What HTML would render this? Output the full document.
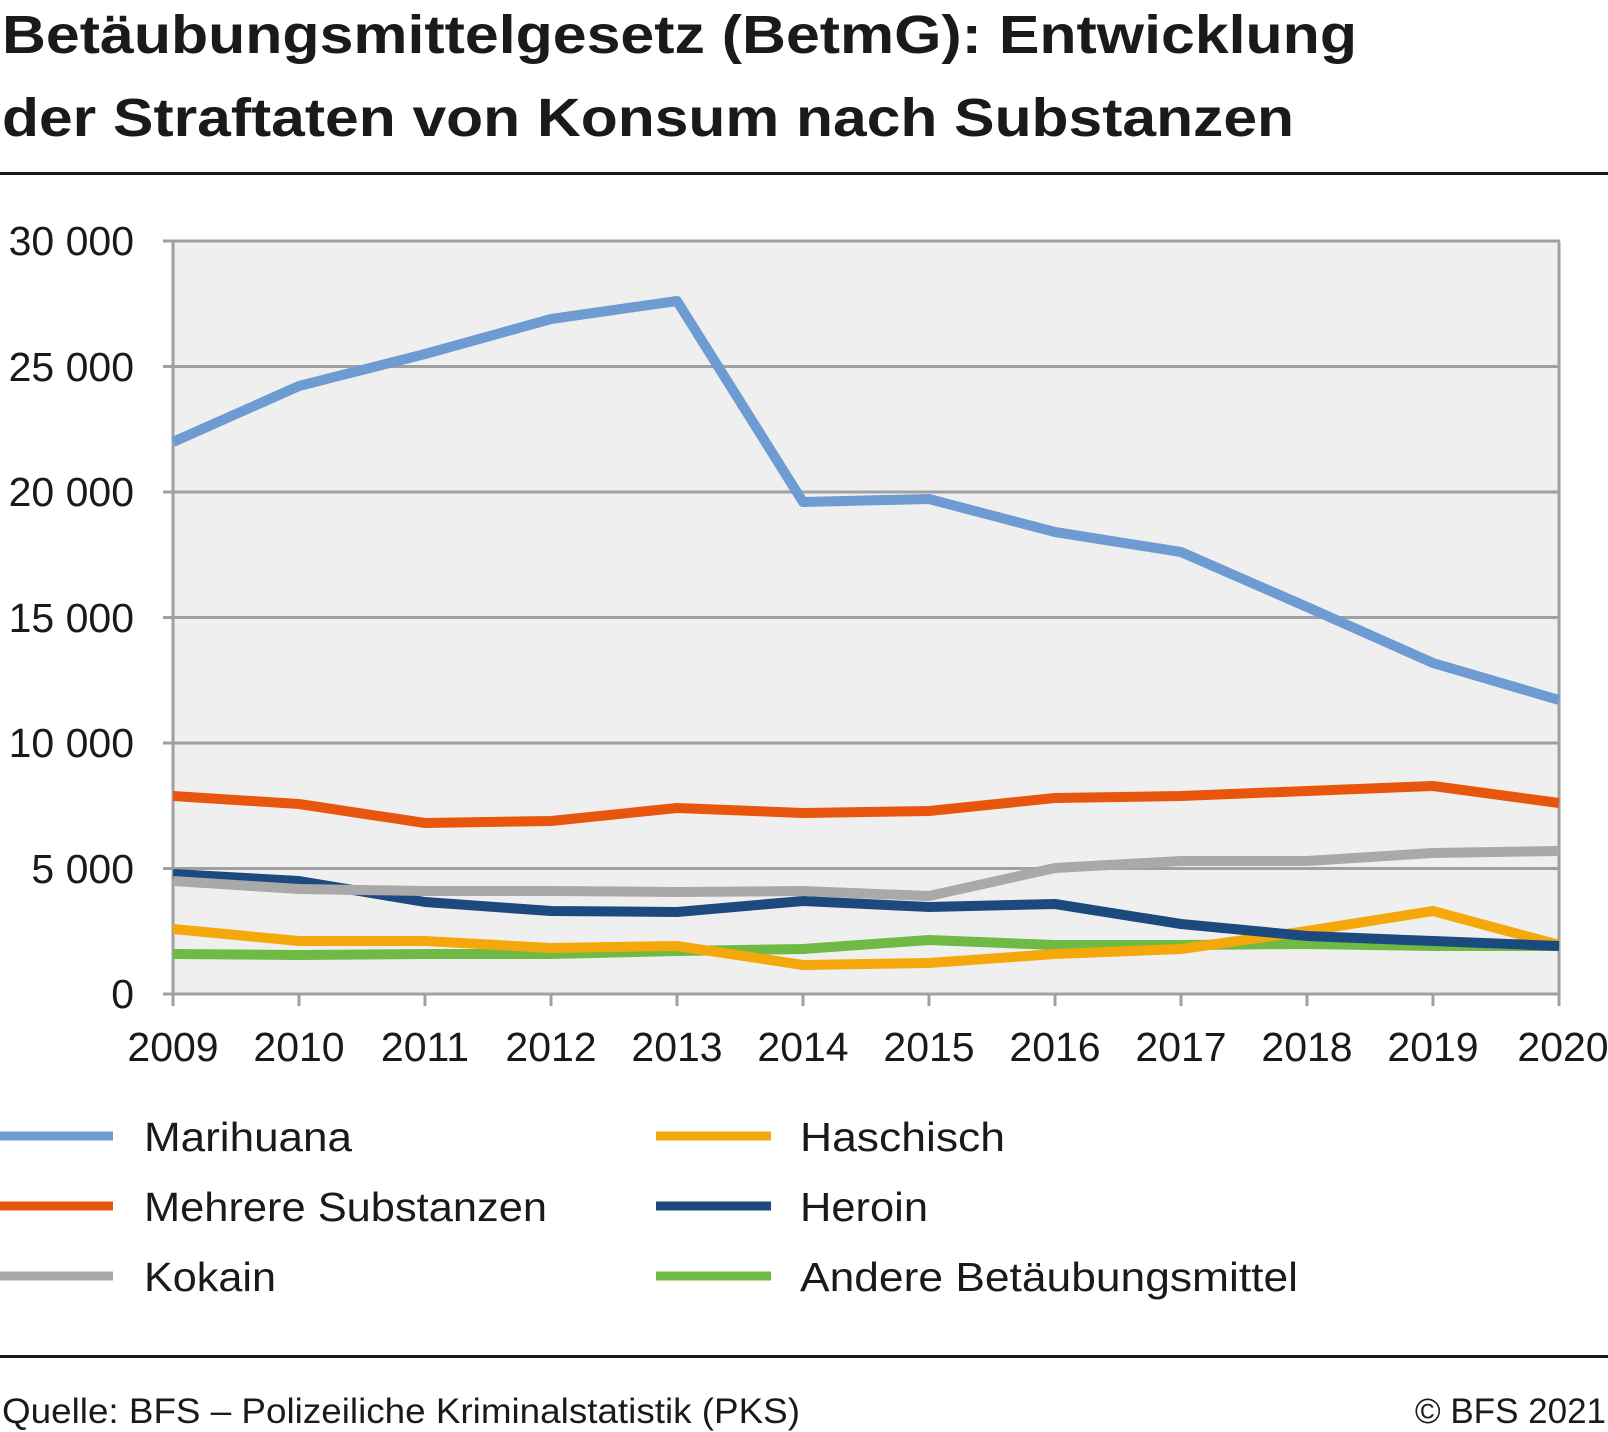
<!DOCTYPE html>
<html><head><meta charset="utf-8"><style>
html,body{margin:0;padding:0;background:#fff;}
svg{display:block;}
text{font-family:"Liberation Sans",sans-serif;fill:#1a1a1a;}
</style></head><body>
<svg width="1608" height="1432" viewBox="0 0 1608 1432" xmlns="http://www.w3.org/2000/svg">
<text x="2" y="53" font-size="54" font-weight="bold" textLength="1355" lengthAdjust="spacingAndGlyphs">Betäubungsmittelgesetz (BetmG): Entwicklung</text>
<text x="2" y="136" font-size="54" font-weight="bold" textLength="1292" lengthAdjust="spacingAndGlyphs">der Straftaten von Konsum nach Substanzen</text>
<rect x="0" y="172" width="1608" height="3" fill="#1a1a1a"/>
<rect x="173" y="241" width="1386" height="753" fill="#efefef"/>
<g stroke="#a0a0a0" stroke-width="3">
<line x1="163" y1="241" x2="1560" y2="241"/>
<line x1="163" y1="366.5" x2="1560" y2="366.5"/>
<line x1="163" y1="492" x2="1560" y2="492"/>
<line x1="163" y1="617.5" x2="1560" y2="617.5"/>
<line x1="163" y1="743" x2="1560" y2="743"/>
<line x1="163" y1="868.5" x2="1560" y2="868.5"/>
<line x1="163" y1="994" x2="1560" y2="994"/>
<line x1="173" y1="241" x2="173" y2="994"/>
<line x1="1559" y1="241" x2="1559" y2="994"/>
</g>
<g stroke="#a0a0a0" stroke-width="3">
<line x1="173" y1="994" x2="173" y2="1006"/><line x1="299" y1="994" x2="299" y2="1006"/><line x1="425" y1="994" x2="425" y2="1006"/><line x1="551" y1="994" x2="551" y2="1006"/><line x1="677" y1="994" x2="677" y2="1006"/><line x1="803" y1="994" x2="803" y2="1006"/><line x1="929" y1="994" x2="929" y2="1006"/><line x1="1055" y1="994" x2="1055" y2="1006"/><line x1="1181" y1="994" x2="1181" y2="1006"/><line x1="1307" y1="994" x2="1307" y2="1006"/><line x1="1433" y1="994" x2="1433" y2="1006"/><line x1="1559" y1="994" x2="1559" y2="1006"/>
</g>
<g font-size="41" text-anchor="end">
<text x="134" y="255">30 000</text>
<text x="134" y="381">25 000</text>
<text x="134" y="506">20 000</text>
<text x="134" y="632">15 000</text>
<text x="134" y="757">10 000</text>
<text x="134" y="883">5 000</text>
<text x="134" y="1008">0</text>
</g>
<g font-size="41" text-anchor="middle">
<text x="173" y="1061">2009</text><text x="299" y="1061">2010</text><text x="425" y="1061">2011</text><text x="551" y="1061">2012</text><text x="677" y="1061">2013</text><text x="803" y="1061">2014</text><text x="929" y="1061">2015</text><text x="1055" y="1061">2016</text><text x="1181" y="1061">2017</text><text x="1307" y="1061">2018</text><text x="1433" y="1061">2019</text><text x="1563" y="1061">2020</text>
</g>
<g fill="none" stroke-width="10" stroke-linejoin="round">
<polyline stroke="#6fba45" points="173,954 299,955 425,954 551,954 677,951 803,949 929,940 1055,945 1181,945 1307,944 1433,946 1559,946"/>
<polyline stroke="#f5a80b" points="173,929 299,941 425,941 551,948 677,946 803,965 929,963 1055,954 1181,949 1307,931 1433,911 1559,945"/>
<polyline stroke="#1d4a7e" points="173,874 299,881 425,902 551,911 677,912 803,901 929,907 1055,904 1181,924 1307,936 1433,941 1559,946"/>
<polyline stroke="#a9a9a9" points="173,881 299,889 425,891 551,891 677,892 803,891 929,896 1055,868 1181,861 1307,861 1433,853 1559,851"/>
<polyline stroke="#e8560e" points="173,796 299,804 425,823 551,821 677,808 803,813 929,811 1055,798 1181,796 1307,791 1433,786 1559,803"/>
<polyline stroke="#6d9bd2" points="173,442 299,386 425,354 551,319 677,301 803,502 929,499 1055,532 1181,552 1307,607 1433,663 1559,700"/>
</g>
<g stroke-width="9">
<line x1="0" y1="1136" x2="113" y2="1136" stroke="#6d9bd2"/>
<line x1="0" y1="1206" x2="113" y2="1206" stroke="#e8560e"/>
<line x1="0" y1="1276" x2="113" y2="1276" stroke="#a9a9a9"/>
<line x1="656" y1="1136" x2="771" y2="1136" stroke="#f5a80b"/>
<line x1="656" y1="1206" x2="771" y2="1206" stroke="#1d4a7e"/>
<line x1="656" y1="1276" x2="771" y2="1276" stroke="#6fba45"/>
</g>
<g font-size="41">
<text x="144" y="1151" textLength="208" lengthAdjust="spacingAndGlyphs">Marihuana</text>
<text x="144" y="1221" textLength="403" lengthAdjust="spacingAndGlyphs">Mehrere Substanzen</text>
<text x="144" y="1291" textLength="132" lengthAdjust="spacingAndGlyphs">Kokain</text>
<text x="800" y="1151" textLength="205" lengthAdjust="spacingAndGlyphs">Haschisch</text>
<text x="800" y="1221" textLength="128" lengthAdjust="spacingAndGlyphs">Heroin</text>
<text x="800" y="1291" textLength="498" lengthAdjust="spacingAndGlyphs">Andere Betäubungsmittel</text>
</g>
<rect x="0" y="1355" width="1608" height="3" fill="#1a1a1a"/>
<text x="2" y="1423" font-size="35" textLength="798" lengthAdjust="spacingAndGlyphs">Quelle: BFS – Polizeiliche Kriminalstatistik (PKS)</text>
<text x="1606" y="1423" font-size="35" text-anchor="end">© BFS 2021</text>
</svg>
</body></html>
